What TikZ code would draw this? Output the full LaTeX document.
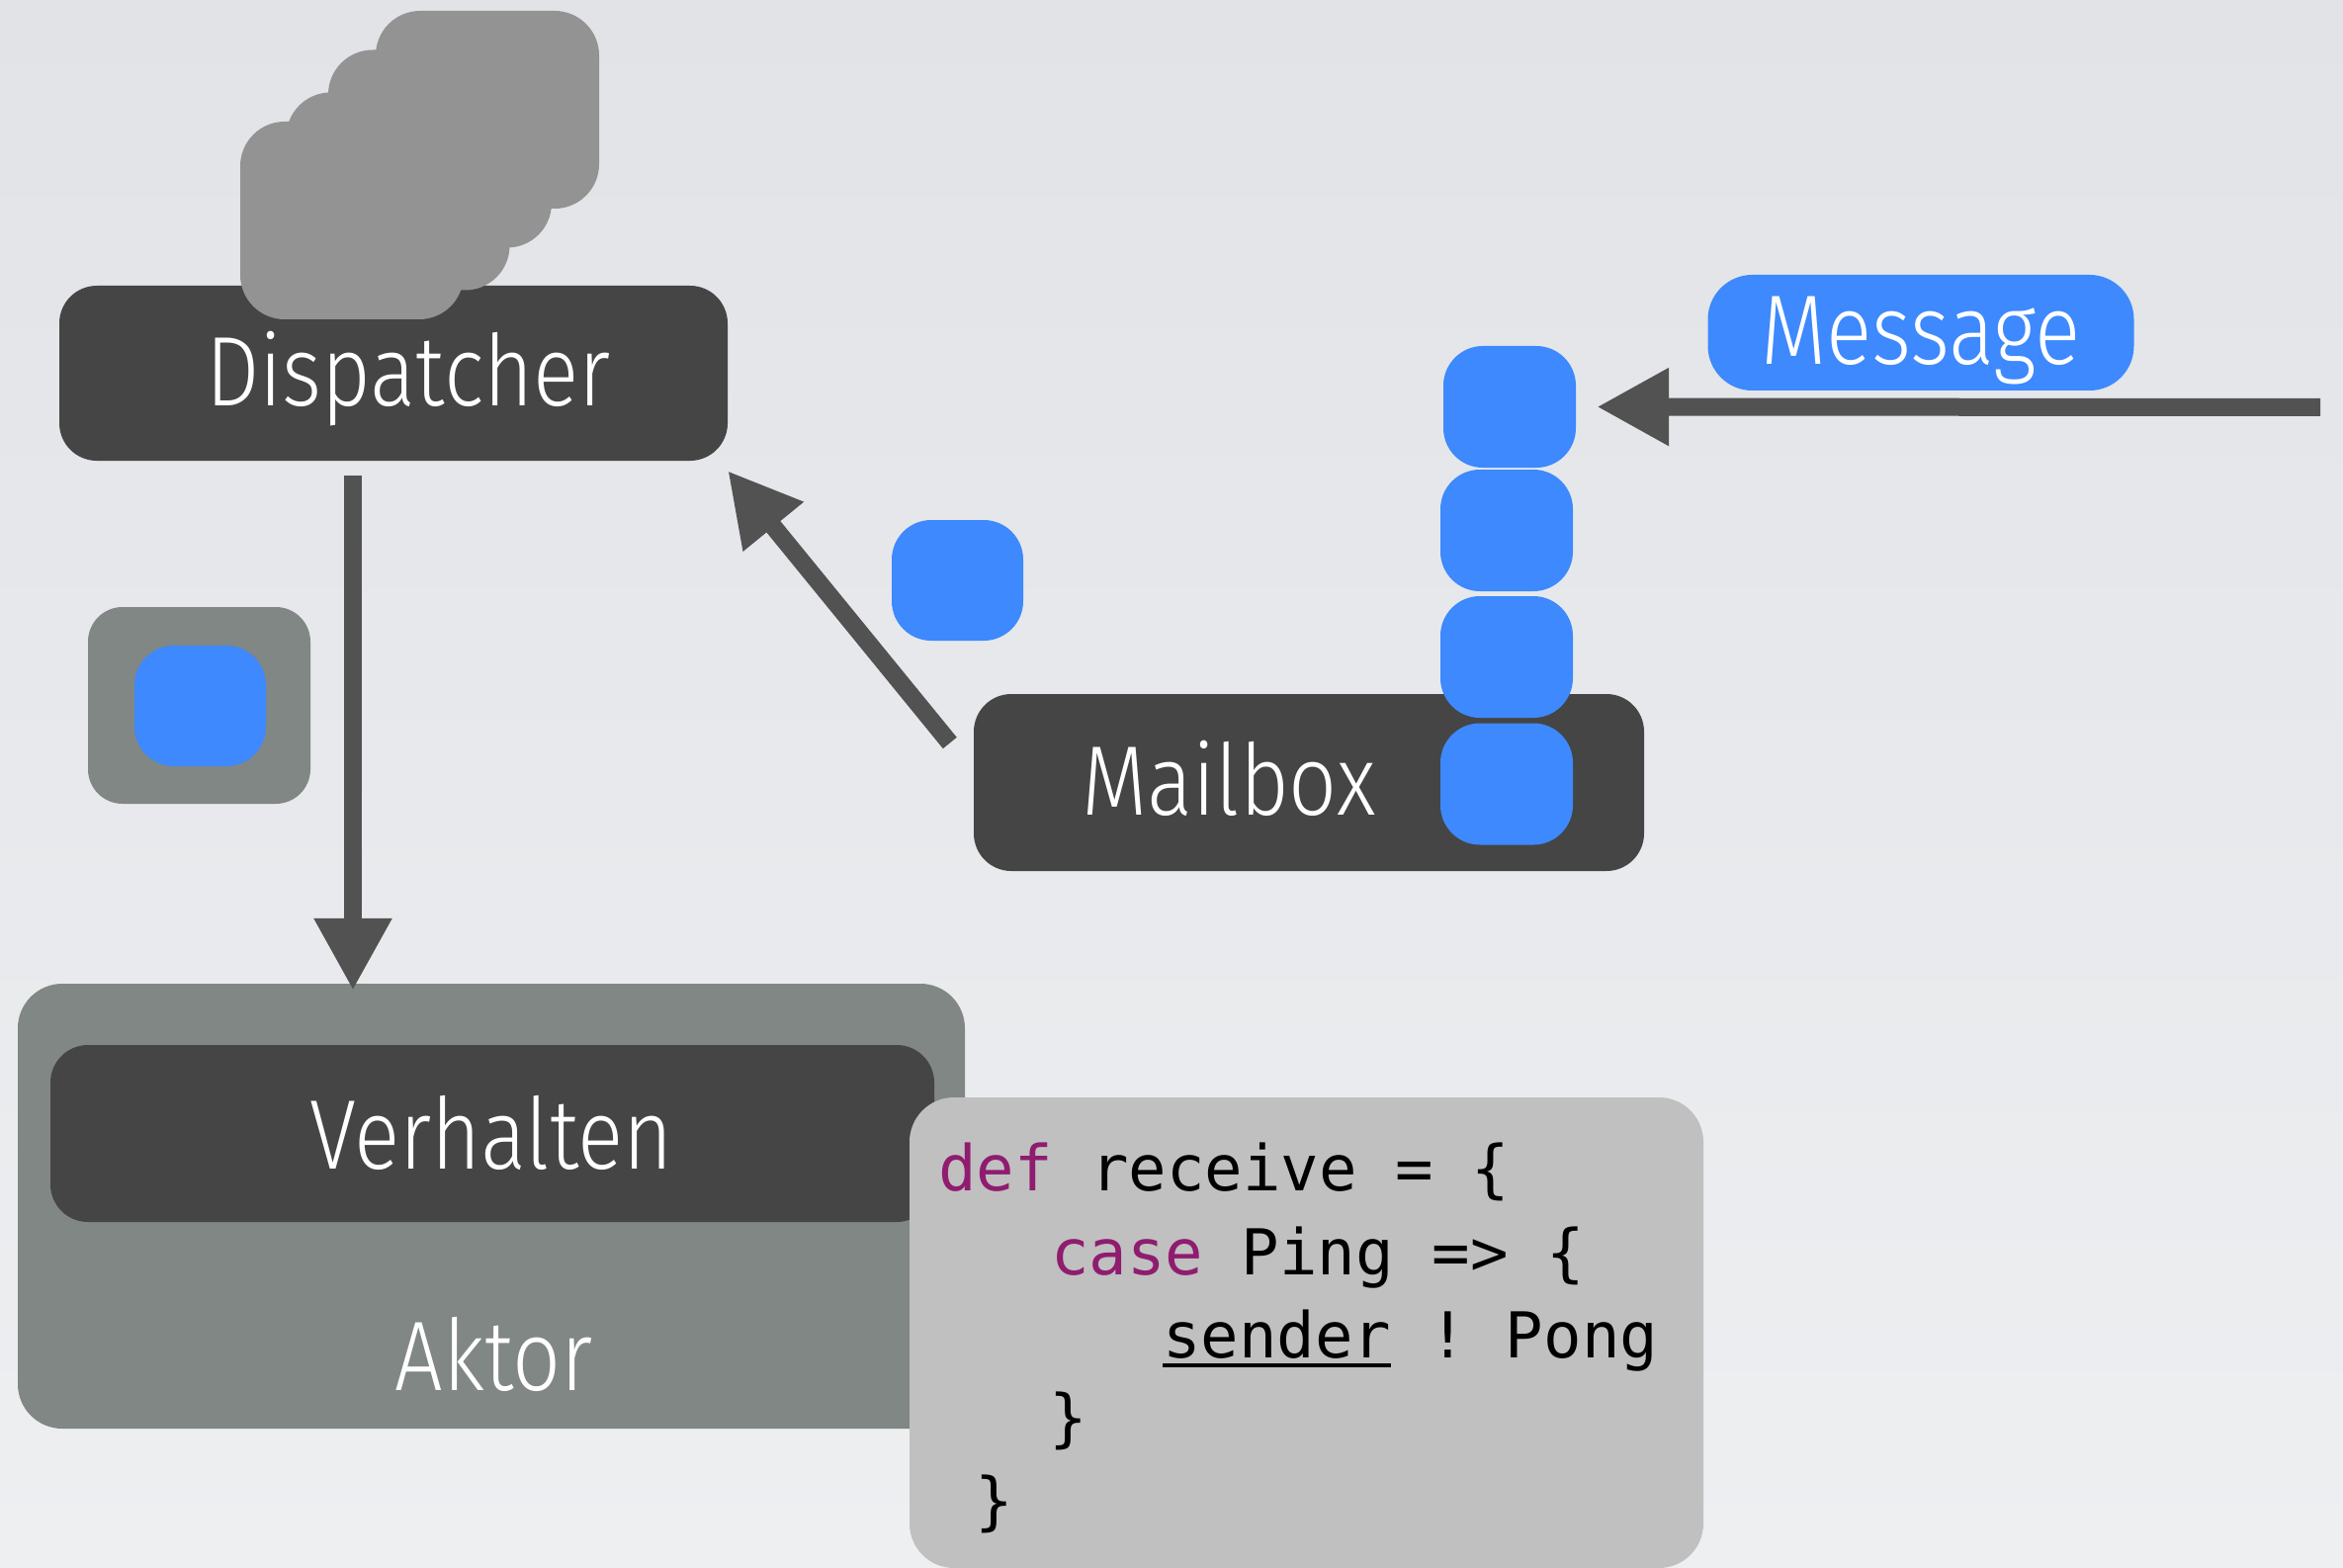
\documentclass[tikz,border=0pt]{standalone}
\usepackage{fontspec}
\usetikzlibrary{arrows.meta}
\newfontfamily\gillfont{Fira Sans Light}[FakeStretch=0.86]
\newfontfamily\codefont{DejaVu Sans Mono}
\definecolor{bgtop}{HTML}{E1E3E7}
\definecolor{bgbot}{HTML}{EEEFF1}
\definecolor{boxdark}{HTML}{454545}
\definecolor{arrowgray}{HTML}{525252}
\definecolor{stackgray}{HTML}{939393}
\definecolor{actorgray}{HTML}{818784}
\definecolor{msgblue}{HTML}{3D89FD}
\definecolor{codebg}{HTML}{C0C0C0}
\definecolor{keyword}{HTML}{8F1C6F}
\newcommand\codeul[1]{\setbox0\hbox{#1}\rlap{\rule[-10pt]{\wd0}{4pt}}\box0\relax}
\begin{document}
\begin{tikzpicture}[x=1pt,y=-1pt,
  panel/.style={rectangle, inner sep=0pt, rounded corners=#1},
  panel/.default=40pt,
  darkbox/.style={panel=38pt, fill=boxdark},
  stackbox/.style={panel=45pt, fill=stackgray, minimum width=226pt, minimum height=200pt},
  bluebox/.style={panel=40pt, fill=msgblue, minimum width=134pt, minimum height=123pt},
  lbl/.style={text=white, font=\gillfont\fontsize{100}{100}\selectfont, anchor=base, inner sep=0pt},
  codeline/.style={anchor=base west, inner sep=0pt, font=\codefont\fontsize{64}{85}\selectfont\frenchspacing},
  arr/.style={draw=arrowgray, line width=18pt, -{Triangle[length=73pt,width=74pt]}}]

% background
\shade[top color=bgtop, bottom color=bgbot] (0,0) rectangle (2370,1586);
\useasboundingbox (0,0) rectangle (2370,1586);

% dispatcher with its stack of threads
\node[darkbox, minimum width=676pt, minimum height=177pt] (dispatcher) at (398,377.5) {};
\node[stackbox] (thread4) at (493,111) {};
\node[stackbox] (thread3) at (445,150.5) {};
\node[stackbox] (thread2) at (402.5,193.5) {};
\node[stackbox] (thread1) at (356,223) {};
\node[lbl] (dispatcher-text) at (413,411) {Dispatcher};

% message being processed
\node[panel=35pt, fill=actorgray, minimum width=225pt, minimum height=199pt] (current) at (201.5,713.5) {};
\node[bluebox, minimum width=133pt, minimum height=122pt] (current-msg) at (202.5,714) {};

% actor with its behaviour
\node[panel=45pt, fill=actorgray, minimum width=958pt, minimum height=450pt] (aktor) at (497,1220) {};
\node[darkbox, minimum width=894pt, minimum height=179pt] (verhalten) at (498,1146.5) {};
\node[lbl] (verhalten-text) at (497,1182) {Verhalten};
\node[lbl] (aktor-text) at (500,1406) {Aktor};

% code of the behaviour
\node[panel=45pt, fill=codebg, minimum width=803pt, minimum height=476pt] (code) at (1321.5,1348) {};
\node[codeline] (code1) at (949,1204) {\textcolor{keyword}{def} receive = \{};
\node[codeline] (code2) at (1063,1289) {\textcolor{keyword}{case} Ping => \{};
\node[codeline] (code3) at (1176,1373) {\codeul{sender} ! Pong};
\node[codeline] (code4) at (1061,1456) {\}};
\node[codeline] (code5) at (986,1540) {\}};

% mailbox and queued messages
\node[darkbox, minimum width=678pt, minimum height=179pt] (mailbox) at (1324,791.5) {};
\node[lbl] (mailbox-text) at (1243,824) {Mailbox};
\node[bluebox] (q1) at (1527,411.5) {};
\node[bluebox] (q2) at (1524,536.5) {};
\node[bluebox] (q3) at (1524,664.5) {};
\node[bluebox] (q4) at (1524,793) {};

% message taken from the mailbox
\node[bluebox, minimum width=133pt, minimum height=122pt] (taken) at (968.5,587) {};

% incoming message
\node[panel=45pt, fill=msgblue, minimum width=431pt, minimum height=117pt] (message) at (1943,336.5) {};
\node[lbl] (message-text) at (1943,369) {Message};

% connectors
\coordinate (incoming) at (2347,412);
\draw[arr] (incoming) -- ([xshift=21pt]q1.east);
\draw[arr] ([xshift=-24pt,yshift=40pt]mailbox.west) -- ([yshift=-10pt]dispatcher.south east);
\draw[arr] ([xshift=-41pt,yshift=-15pt]dispatcher.south) -- ([xshift=-140pt,yshift=-7pt]aktor.north);
\end{tikzpicture}
\end{document}
